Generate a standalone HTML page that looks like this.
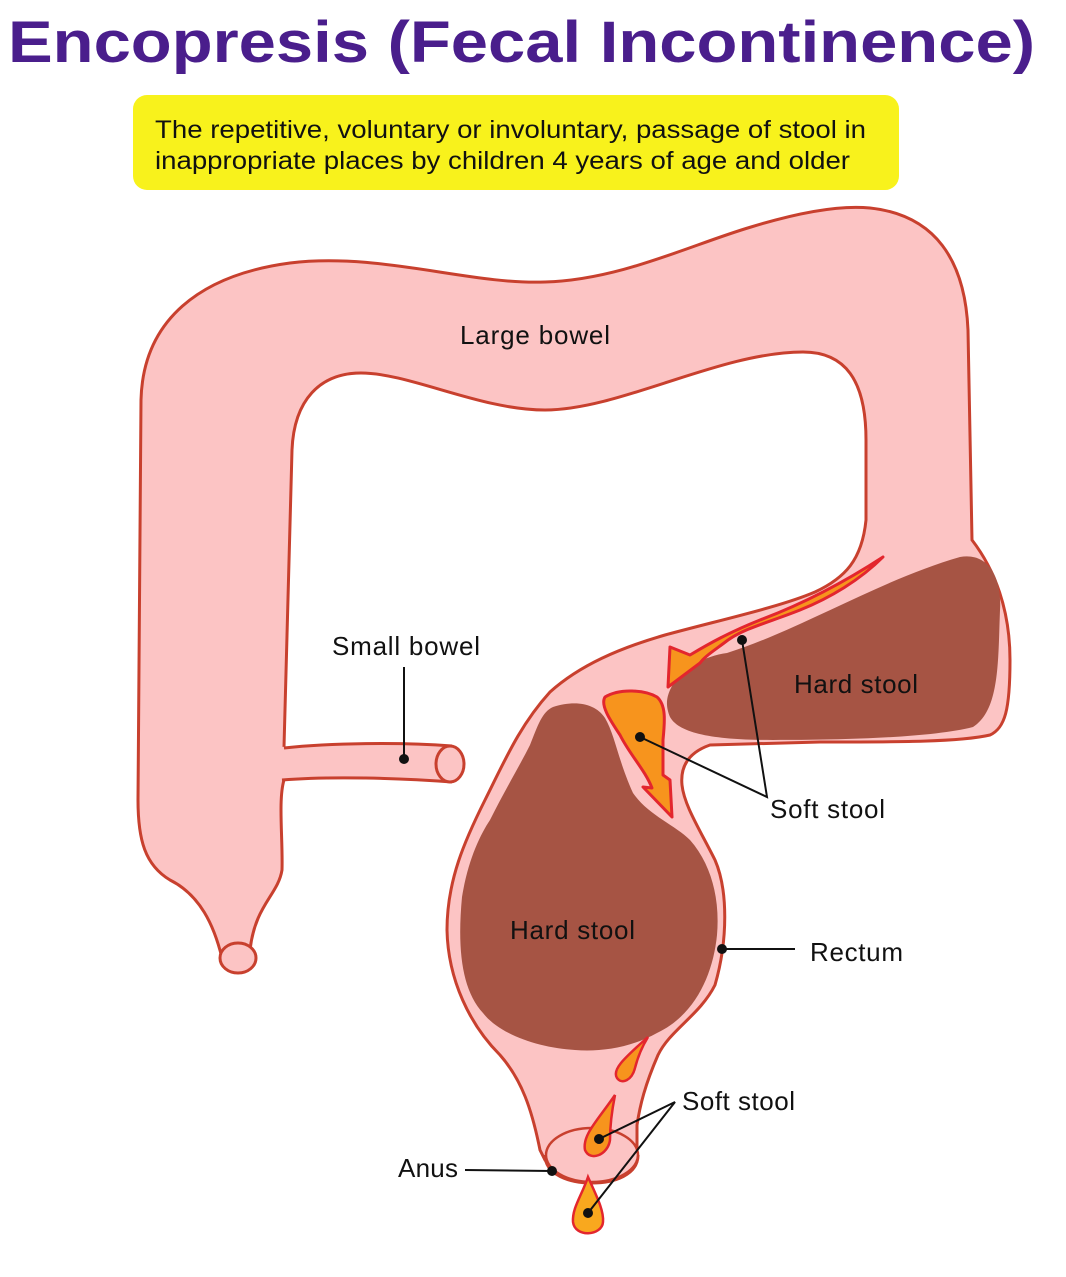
<!DOCTYPE html>
<html><head><meta charset="utf-8"><style>
html,body{margin:0;padding:0;background:#fff}
svg{display:block}
text{font-family:"Liberation Sans",sans-serif}
</style></head><body>
<svg width="1066" height="1277" viewBox="0 0 1066 1277" xmlns="http://www.w3.org/2000/svg">
<text x="8" y="62" font-family="DejaVu Sans Condensed, DejaVu Sans" font-weight="bold" font-size="58" fill="#4a1e8c" textLength="1027" lengthAdjust="spacingAndGlyphs">Encopresis (Fecal Incontinence)</text>
<rect x="133" y="95" width="766" height="95" rx="14" fill="#f8f21c"/>
<text x="155" y="138" font-size="25" fill="#111" textLength="711" lengthAdjust="spacingAndGlyphs">The repetitive, voluntary or involuntary, passage of stool in</text>
<text x="155" y="169" font-size="25" fill="#111" textLength="695" lengthAdjust="spacingAndGlyphs">inappropriate places by children 4 years of age and older</text>

<!-- colon -->
<path d="M222,958 C214,925 200,895 170,880 C145,865 138,840 138,800 L141,400 C143,320 200,275 290,263 C380,252 470,285 545,282 C620,280 690,245 751,227 C800,212 840,205 870,208 C935,215 965,260 968,330 L972,540 C995,570 1010,610 1010,660 C1010,710 1005,728 990,735 C960,742 900,742 820,742 L710,745 C690,752 680,765 682,785 C684,805 700,830 715,860 C728,890 728,940 715,985 C700,1015 670,1030 658,1055 C645,1085 640,1105 637,1125 L637,1160 L545,1160 L540,1150 C532,1110 522,1080 500,1055 C470,1025 448,980 447,930 C447,880 465,840 485,800 C505,760 520,725 550,692 C580,665 620,648 665,635 C720,620 780,607 815,592 C845,578 862,560 866,520 L866,440 C866,380 845,352 803,352 C720,352 620,410 545,410 C480,410 410,373 361,373 C320,373 294,400 292,450 L284,747 L284,780 C278,800 283,840 282,870 C278,895 255,905 250,950 Z" fill="#fcc4c4" stroke="#c8402e" stroke-width="3"/>
<!-- small bowel -->
<path d="M281,747 C330,743 400,742 452,746 L452,782 C400,778 330,776 281,780 Z" fill="#fcc4c4"/>
<path d="M284,748 C330,743 400,742 452,746 M282,780 C330,776 400,778 452,782" fill="none" stroke="#c8402e" stroke-width="3"/>
<ellipse cx="450" cy="764" rx="14" ry="18" fill="#fcc4c4" stroke="#c8402e" stroke-width="3"/>
<ellipse cx="238" cy="958" rx="18" ry="15" fill="#fcc4c4" stroke="#c8402e" stroke-width="3"/>
<!-- anus -->
<path d="M545,1155 C545,1175 570,1183 592,1183 C614,1183 638,1175 638,1155" fill="#fcc4c4" stroke="#c8402e" stroke-width="3"/>
<ellipse cx="592" cy="1155" rx="46" ry="27" fill="#fcc4c4" stroke="#c8402e" stroke-width="2.5"/>

<!-- hard stools -->
<path d="M670,690 C680,668 705,656 727,653 C800,630 880,580 960,557 C990,552 1002,580 1000,610 C998,660 1000,710 973,727 C930,738 840,740 773,740 C720,740 680,735 670,717 C665,705 667,697 670,690 Z" fill="#a65444"/>
<path d="M553,707 C575,700 595,703 605,718 C615,735 618,760 633,793 C648,815 675,825 690,840 C712,865 720,900 717,935 C713,975 695,1015 657,1033 C630,1048 600,1052 575,1050 C540,1048 500,1035 483,1013 C462,990 457,950 462,897 C468,860 480,835 490,820 C505,790 520,765 530,745 C538,725 542,712 553,707 Z" fill="#a65444"/>

<!-- soft stool arrow -->
<path d="M883,557 C860,580 830,598 800,610 C770,622 745,628 728,640 C715,650 705,656 700,663 L668,687 L670,647 L690,655 C710,643 730,632 760,620 C800,605 840,585 883,557 Z" fill="#f7941d" stroke="#e3262e" stroke-width="3" stroke-linejoin="round"/>
<path d="M605,697 C620,688 645,690 657,697 C666,705 665,720 663,740 L663,775 L670,780 L672,817 L643,787 L652,788 C645,770 630,755 620,735 C610,720 600,705 605,697 Z" fill="#f7941d" stroke="#e3262e" stroke-width="3" stroke-linejoin="round"/>
<!-- drops -->
<path d="M648,1037 C640,1050 637,1060 635,1068 C632,1080 622,1085 617,1078 C612,1070 622,1060 648,1037 Z" fill="#f7941d" stroke="#e3262e" stroke-width="2.5"/>
<path d="M615,1095 C612,1110 610,1125 610,1140 C608,1155 590,1162 585,1150 C582,1135 598,1120 615,1095 Z" fill="#f7941d" stroke="#e3262e" stroke-width="2.5"/>
<path d="M588,1177 C596,1195 604,1210 603,1222 C602,1236 575,1238 573,1222 C572,1208 582,1195 588,1177 Z" fill="#f9a81e" stroke="#e3262e" stroke-width="2.5"/>

<!-- labels -->
<g font-size="26" fill="#111" lengthAdjust="spacingAndGlyphs">
<text x="460" y="344" textLength="150">Large bowel</text>
<text x="332" y="655" textLength="148">Small bowel</text>
<text x="794" y="693" textLength="124">Hard stool</text>
<text x="770" y="818" textLength="115">Soft stool</text>
<text x="510" y="939" textLength="125">Hard stool</text>
<text x="810" y="961" textLength="93">Rectum</text>
<text x="682" y="1110" textLength="113">Soft stool</text>
<text x="398" y="1177" textLength="60">Anus</text>
</g>
<g stroke="#111" stroke-width="2" fill="none">
<line x1="404" y1="667" x2="404" y2="758"/>
<polyline points="742,640 767,797 640,737"/>
<line x1="722" y1="949" x2="795" y2="949"/>
<polyline points="599,1139 675,1102 588,1213"/>
<line x1="465" y1="1170" x2="552" y2="1171"/>
</g>
<g fill="#111">
<circle cx="404" cy="759" r="5"/><circle cx="742" cy="640" r="5"/><circle cx="640" cy="737" r="5"/>
<circle cx="722" cy="949" r="5"/><circle cx="599" cy="1139" r="5"/><circle cx="588" cy="1213" r="5"/><circle cx="552" cy="1171" r="5"/>
</g>
</svg>
</body></html>
